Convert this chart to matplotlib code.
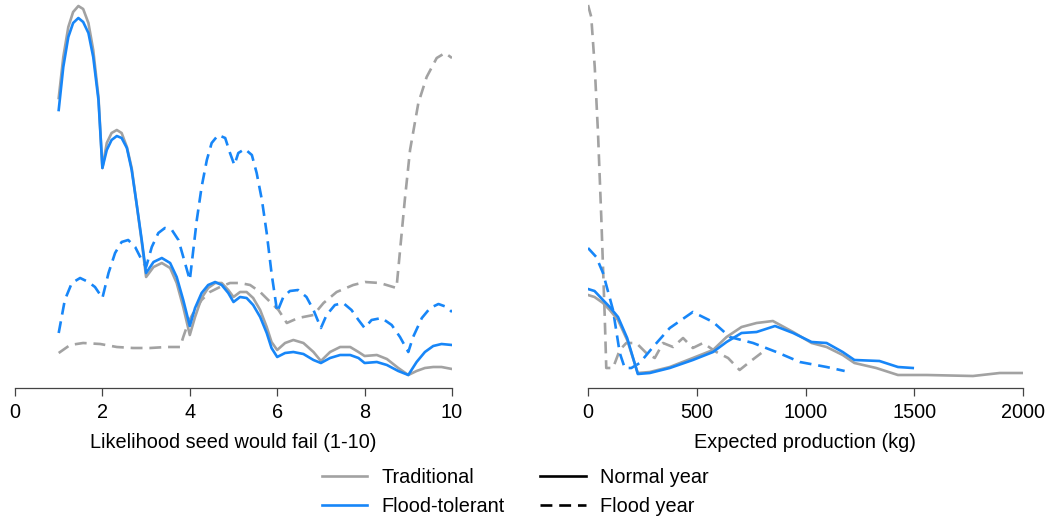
import matplotlib
matplotlib.use("Agg")
import matplotlib.pyplot as plt
from matplotlib.lines import Line2D

plt.rcParams["font.family"] = ["Liberation Sans", "DejaVu Sans"]

GRAY = "#a2a2a2"
BLUE = "#1786f8"
AXC = "#444444"

# left panel: likelihood seed would fail (1-10), relative density
fail_normal_x = [1.0, 1.105, 1.22, 1.33, 1.45, 1.56, 1.68, 1.79, 1.91, 2.0, 2.1, 2.21, 2.33, 2.44,
                 2.56, 2.67, 2.78, 2.9, 3.0, 3.17, 3.36, 3.55, 3.7, 3.85, 4.0, 4.12, 4.27, 4.42,
                 4.58, 4.73, 4.88, 5.0, 5.15, 5.3, 5.45, 5.61, 5.76, 5.87, 6.0, 6.18, 6.37, 6.6,
                 6.83, 7.0, 7.21, 7.44, 7.67, 7.86, 8.0, 8.28, 8.51, 8.77, 9.0, 9.19, 9.38, 9.57,
                 9.76, 10.0]
fail_trad_normal = [290, 331, 361, 376, 382, 379, 365, 338, 291, 220, 245, 255, 258, 255,
                    241, 220, 185, 146, 111, 121, 125, 120, 105, 81, 53, 71, 90, 100,
                    105, 105, 98, 91, 96, 96, 90, 78, 61, 46, 38, 45, 48, 45,
                    36, 27, 36, 41, 41, 36, 32, 33, 29, 20, 13, 17, 20, 21,
                    21, 19]
fail_flood_normal = [278, 321, 351, 365, 370, 366, 355, 331, 288, 220, 238, 248, 252, 250,
                     240, 218, 185, 148, 115, 126, 130, 125, 111, 88, 62, 80, 95, 103,
                     106, 103, 95, 86, 91, 90, 83, 71, 55, 40, 31, 35, 36, 34,
                     28, 25, 30, 33, 33, 30, 25, 26, 23, 17, 13, 26, 36, 42,
                     44, 43]
fail_flood_flood_x = [1.0, 1.14, 1.3, 1.49, 1.68, 1.83, 2.0, 2.14, 2.29, 2.44, 2.59, 2.75, 2.9, 3.0,
                      3.13, 3.28, 3.43, 3.59, 3.74, 3.89, 4.0, 4.08, 4.16, 4.27, 4.39, 4.5, 4.65,
                      4.81, 4.92, 5.02, 5.11, 5.26, 5.42, 5.53, 5.65, 5.76, 5.87, 6.0, 6.14, 6.29,
                      6.48, 6.67, 6.83, 7.0, 7.13, 7.32, 7.51, 7.7, 7.86, 8.0, 8.16, 8.39, 8.62,
                      8.81, 9.0, 9.11, 9.31, 9.5, 9.69, 9.88, 10.0]
fail_flood_flood = [55, 88, 105, 110, 106, 101, 90, 115, 135, 146, 148, 141, 128, 121,
                    141, 155, 160, 158, 148, 125, 108, 138, 168, 201, 228, 245, 253,
                    250, 235, 223, 235, 239, 233, 215, 188, 155, 115, 76, 91, 97,
                    98, 91, 78, 60, 73, 83, 85, 78, 68, 60, 68, 70, 63,
                    51, 36, 51, 70, 80, 84, 81, 76]
fail_trad_flood_x = [1.0, 1.26, 1.56, 1.95, 2.33, 2.7, 3.09, 3.47, 3.78, 3.85, 3.97, 4.08, 4.27,
                     4.46, 4.69, 4.92, 5.15, 5.38, 5.61, 5.84, 6.03, 6.22, 6.48, 6.83, 7.06,
                     7.36, 7.74, 8.01, 8.35, 8.73, 8.92, 9.04, 9.23, 9.42, 9.65, 9.84, 10.0]
fail_trad_flood = [35, 43, 45, 44, 41, 40, 40, 41, 41, 51, 66, 75, 88,
                   96, 101, 105, 105, 103, 96, 86, 78, 65, 70, 73, 85,
                   96, 103, 106, 105, 100, 188, 238, 285, 311, 330, 335, 330]

# right panel: expected production (kg), relative density
prod_trad_normal_x = [0, 30, 69, 100, 138, 180, 229, 284, 376, 482, 575, 637, 706, 775, 850, 943,
                      1028, 1097, 1171, 1225, 1325, 1425, 1557, 1770, 1893, 2000]
prod_trad_normal = [93, 91, 85, 78, 68, 48, 15, 16, 21, 30, 38, 51, 61, 65, 67, 56,
                    45, 41, 33, 25, 20, 13, 13, 12, 15, 15]
prod_flood_normal_x = [0, 30, 69, 100, 138, 180, 229, 284, 376, 482, 575, 637, 706, 775, 860, 943,
                       1028, 1097, 1171, 1225, 1340, 1425, 1493]
prod_flood_normal = [99, 97, 88, 81, 71, 50, 14, 15, 20, 28, 36, 46, 55, 56, 62, 55,
                     46, 45, 36, 28, 27, 21, 20]
prod_flood_flood_x = [0, 38, 69, 115, 146, 169, 199, 238, 299, 376, 482, 575, 652, 759, 866, 974,
                      1097, 1180]
prod_flood_flood = [140, 131, 115, 78, 35, 20, 20, 25, 41, 60, 76, 66, 51, 45, 36, 26, 21, 17]
prod_trad_flood_x = [0, 15, 31, 46, 61, 77, 84, 115, 146, 176, 222, 268, 307, 345, 391, 437,
                     482, 529, 590, 644, 697, 743, 797]
prod_trad_flood = [383, 371, 321, 255, 171, 71, 20, 20, 38, 45, 45, 35, 30, 45, 41, 50,
                   40, 45, 36, 30, 18, 26, 35]

LW = 1.9
DASH = (0, (4.5, 2.6))
FS = 14.3


def style(ax, xmax, ticks, label):
    ax.set_xlim(0, xmax)
    ax.set_ylim(0, 388)
    for s in ["top", "right", "left"]:
        ax.spines[s].set_visible(False)
    ax.spines["bottom"].set_color(AXC)
    ax.spines["bottom"].set_linewidth(0.9)
    ax.set_yticks([])
    ax.set_xticks(ticks)
    ax.tick_params(axis="x", length=6, width=0.9, color=AXC, pad=5, labelsize=FS)
    ax.set_xlabel(label, fontsize=FS, labelpad=8)


fig = plt.figure(figsize=(10.52, 5.23), dpi=100)
ax1 = fig.add_axes([15 / 1052, 135 / 523, 437 / 1052, 388 / 523])
ax2 = fig.add_axes([588 / 1052, 135 / 523, 435 / 1052, 388 / 523])

ax1.plot(fail_trad_flood_x, fail_trad_flood, color=GRAY, lw=LW, ls=DASH)
ax1.plot(fail_flood_flood_x, fail_flood_flood, color=BLUE, lw=LW, ls=DASH)
ax1.plot(fail_normal_x, fail_trad_normal, color=GRAY, lw=LW)
ax1.plot(fail_normal_x, fail_flood_normal, color=BLUE, lw=LW)
style(ax1, 10, [0, 2, 4, 6, 8, 10], "Likelihood seed would fail (1-10)")

ax2.plot(prod_trad_flood_x, prod_trad_flood, color=GRAY, lw=LW, ls=DASH)
ax2.plot(prod_flood_flood_x, prod_flood_flood, color=BLUE, lw=LW, ls=DASH)
ax2.plot(prod_trad_normal_x, prod_trad_normal, color=GRAY, lw=LW)
ax2.plot(prod_flood_normal_x, prod_flood_normal, color=BLUE, lw=LW)
style(ax2, 2000, [0, 500, 1000, 1500, 2000], "Expected production (kg)")

handles = [
    Line2D([], [], color=GRAY, lw=LW),
    Line2D([], [], color=BLUE, lw=LW),
    Line2D([], [], color="black", lw=LW),
    Line2D([], [], color="black", lw=LW, ls=DASH),
]
labels = ["Traditional", "Flood-tolerant", "Normal year", "Flood year"]
fig.legend(handles, labels, ncol=2, frameon=False, loc="center",
           bbox_to_anchor=(515 / 1052, 31 / 523), fontsize=FS,
           handlelength=2.3, handletextpad=0.7, columnspacing=1.8, labelspacing=0.52)

fig.savefig("out.png", dpi=100)
